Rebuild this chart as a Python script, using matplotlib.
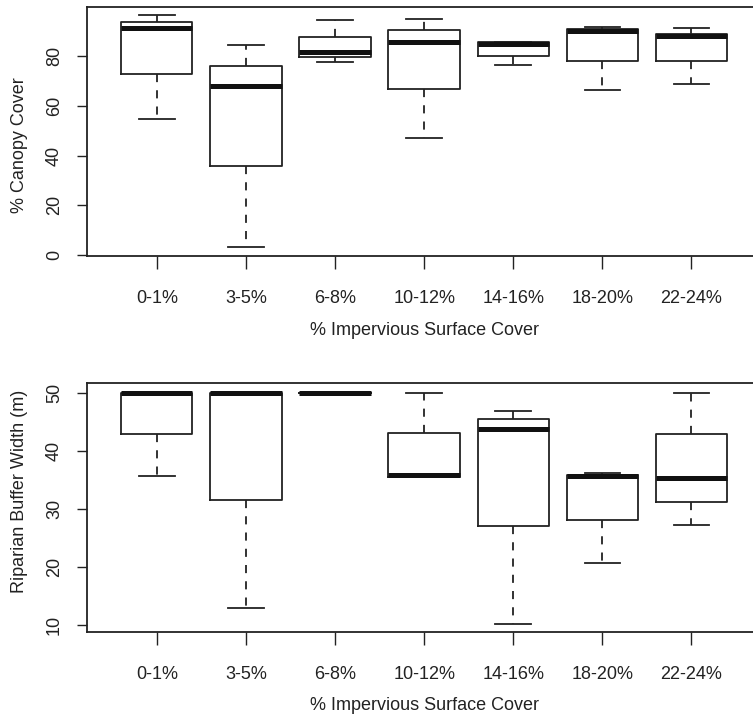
import matplotlib.pyplot as plt

plt.rcParams['font.family'] = ['Liberation Sans', 'DejaVu Sans']

categories = ['0-1%', '3-5%', '6-8%', '10-12%', '14-16%', '18-20%', '22-24%']

# % canopy cover
canopy_lo = [54.7, 3.4, 77.7, 47.3, 76.4, 66.3, 68.8]
canopy_q1 = [73.0, 35.9, 79.6, 66.8, 80.3, 78.3, 78.3]
canopy_med = [91.2, 68.2, 81.6, 85.8, 85.1, 90.0, 88.1]
canopy_q3 = [93.7, 76.2, 87.7, 90.4, 85.7, 91.0, 89.1]
canopy_hi = [96.5, 84.4, 94.5, 95.2, 85.7, 91.8, 91.2]

# riparian buffer width (m)
buffer_lo = [35.6, 12.9, 50.0, 35.4, 10.2, 20.7, 27.3]
buffer_q1 = [42.8, 31.6, 50.0, 35.5, 27.0, 28.1, 31.2]
buffer_med = [50.0, 50.0, 50.0, 35.9, 43.7, 35.6, 35.3]
buffer_q3 = [50.0, 50.0, 50.0, 43.1, 45.4, 35.9, 42.8]
buffer_hi = [50.0, 50.0, 50.0, 50.0, 46.8, 36.2, 50.0]


def make_stats(lo, q1, med, q3, hi):
    return [dict(whislo=a, q1=b, med=c, q3=d, whishi=e, fliers=[])
            for a, b, c, d, e in zip(lo, q1, med, q3, hi)]


def draw_panel(ax, stats, ylabel, yticks, ylim, ylab_y):
    lw = 1.3
    ax.bxp(stats, positions=range(1, len(stats) + 1), widths=0.8,
           capwidths=0.4, showfliers=False, patch_artist=False,
           boxprops=dict(color='#222222', lw=lw),
           medianprops=dict(color='#111111', lw=3.6, solid_capstyle='butt'),
           whiskerprops=dict(color='#222222', lw=lw, linestyle=(0, (4.5, 4.5))),
           capprops=dict(color='#222222', lw=lw))
    ax.set_xlim(0.22, 7.78)
    ax.set_ylim(*ylim)
    ax.set_xticks(range(1, len(categories) + 1))
    ax.set_xticklabels(categories)
    ax.set_yticks(yticks)
    ax.set_yticklabels([str(t) for t in yticks], rotation=90, va='center')
    ax.tick_params(axis='x', length=9.6, width=1, pad=15, labelsize=13,
                   colors='#222222')
    ax.tick_params(axis='y', length=7.5, width=1, pad=10, labelsize=13,
                   colors='#222222')
    for s in ax.spines.values():
        s.set_linewidth(1.3)
        s.set_color('#222222')
    ax.set_xlabel('% Impervious Surface Cover', fontsize=13, color='#222222')
    ax.xaxis.set_label_coords(0.5, -0.298)
    ax.xaxis.label.set_va('center')
    ax.set_ylabel(ylabel, fontsize=13, color='#222222')
    ax.yaxis.set_label_coords(-0.1, ylab_y)
    ax.yaxis.label.set_va('center')


fig = plt.figure(figsize=(7.53, 7.2), dpi=100)
ax1 = fig.add_axes([0.1159, 0.6444, 0.8947, 0.3454])
ax2 = fig.add_axes([0.1159, 0.1227, 0.8947, 0.3458])

draw_panel(ax1, make_stats(canopy_lo, canopy_q1, canopy_med, canopy_q3, canopy_hi),
           '% Canopy Cover', [0, 20, 40, 60, 80], (-0.4, 99.7), 0.446)
draw_panel(ax2, make_stats(buffer_lo, buffer_q1, buffer_med, buffer_q3, buffer_hi),
           'Riparian Buffer Width (m)', [10, 20, 30, 40, 50], (8.85, 51.72), 0.563)

fig.savefig('out.png', dpi=100)
